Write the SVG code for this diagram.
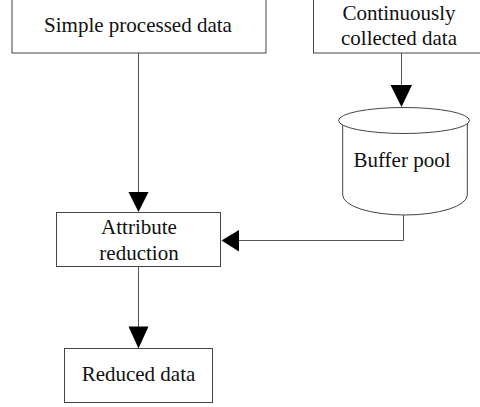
<svg xmlns="http://www.w3.org/2000/svg" width="480" height="407" viewBox="0 0 480 407">
<style>
.box{fill:#fff;stroke:#444;stroke-width:1}
.lbl{font-family:"Liberation Serif","Times New Roman",serif;font-size:21px;fill:#111;text-anchor:middle}
.conn{fill:none;stroke:#555;stroke-width:1}
.head{fill:#000}
</style>
<rect width="480" height="407" fill="#fff"/>
<g id="simple">
<rect class="box" x="12" y="-1" width="254" height="54"/>
<text class="lbl" x="138" y="32">Simple processed data</text>
</g>
<g id="continuous">
<rect class="box" x="313.5" y="-1" width="180" height="54"/>
<text class="lbl" x="399" y="20">Continuously</text>
<text class="lbl" x="399" y="45">collected data</text>
</g>
<g id="buffer">
<path class="box" d="M342.7,121 L342.7,195 A62.3,20 0 0 0 467.3,195 L467.3,121"/>
<ellipse class="box" cx="404" cy="120.5" rx="65.5" ry="13"/>
<text class="lbl" x="402" y="167">Buffer pool</text>
</g>
<g id="attribute">
<rect class="box" x="56.5" y="212.5" width="164" height="54"/>
<text class="lbl" x="139" y="234">Attribute</text>
<text class="lbl" x="139" y="260">reduction</text>
</g>
<g id="reduced">
<rect class="box" x="64.5" y="348.5" width="148" height="54"/>
<text class="lbl" x="138.5" y="381">Reduced data</text>
</g>
<g id="connectors">
<path class="conn" d="M138.5,53 L138.5,193"/>
<polygon class="head" points="128.5,192 148.5,192 138.5,212"/>
<path class="conn" d="M401.5,53 L401.5,86"/>
<polygon class="head" points="390.5,85 412,85 401.5,107"/>
<path class="conn" d="M403.5,215 L403.5,240.5 L238,240.5"/>
<polygon class="head" points="239,230 239,251.5 221.5,240.5"/>
<path class="conn" d="M138.5,266.5 L138.5,328"/>
<polygon class="head" points="128.5,326.5 148.5,326.5 138.5,348.5"/>
</g>
</svg>
